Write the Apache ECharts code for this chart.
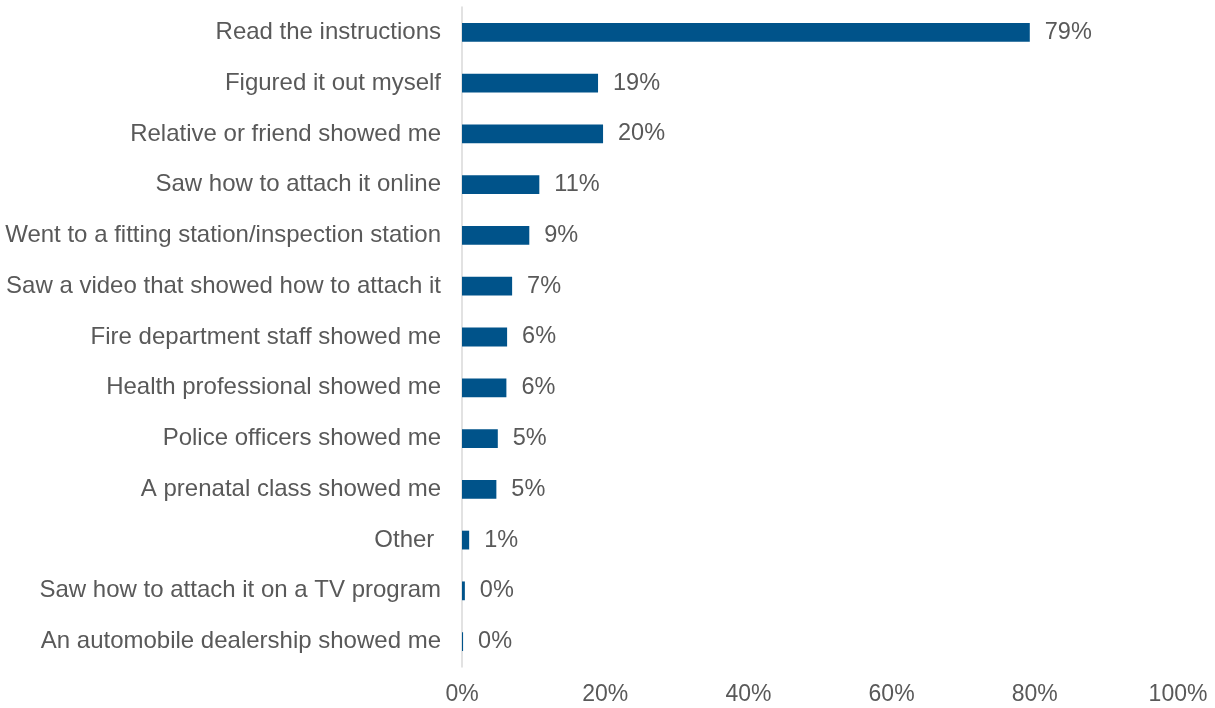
<!DOCTYPE html>
<html>
<head>
<meta charset="utf-8">
<style>
  html, body { margin: 0; padding: 0; background: #ffffff; }
  #chart { width: 1215px; height: 708px; }
</style>
<script src="https://cdn.jsdelivr.net/npm/echarts@6/dist/echarts.min.js"></script>
</head>
<body>
<div id="chart"></div>
<script>
// How people learned to attach the car seat (share of respondents, %)
const categories = [
  "Read the instructions",
  "Figured it out myself",
  "Relative or friend showed me",
  "Saw how to attach it online",
  "Went to a fitting station/inspection station",
  "Saw a video that showed how to attach it",
  "Fire department staff showed me",
  "Health professional showed me",
  "Police officers showed me",
  "A prenatal class showed me",
  "Other ",
  "Saw how to attach it on a TV program",
  "An automobile dealership showed me"
];
const shares = [79.3, 19.0, 19.7, 10.8, 9.4, 7.0, 6.3, 6.2, 5.0, 4.8, 1.0, 0.4, 0.15];
const axisTicks = [0, 20, 40, 60, 80, 100];

const textColor = "#595959";
const font = "'Liberation Sans', Arial, sans-serif";

const chart = echarts.init(document.getElementById("chart"), null, { renderer: "canvas" });
chart.setOption({
  animation: false,
  backgroundColor: "#ffffff",
  grid: { left: 462, right: 37, top: 7, bottom: 41, containLabel: false },
  xAxis: {
    type: "value",
    min: axisTicks[0],
    max: axisTicks[axisTicks.length - 1],
    interval: axisTicks[1] - axisTicks[0],
    axisLine: { show: false },
    axisTick: { show: false },
    splitLine: { show: false },
    axisLabel: {
      color: textColor,
      fontFamily: font,
      fontSize: 23,
      margin: 16,
      formatter: v => v + "%"
    }
  },
  yAxis: {
    type: "category",
    data: categories,
    inverse: true,
    axisLine: { show: true, lineStyle: { color: "#d9d9d9", width: 1.5 } },
    axisTick: { show: false },
    axisLabel: {
      color: textColor,
      fontFamily: font,
      fontSize: 24,
      margin: 21
    }
  },
  series: [{
    type: "bar",
    data: shares,
    barCategoryGap: "63%",
    itemStyle: { color: "#00538a" },
    label: {
      show: true,
      position: "right",
      distance: 15,
      color: textColor,
      fontFamily: font,
      fontSize: 23.5,
      formatter: p => Math.round(p.value) + "%"
    }
  }]
});
</script>
</body>
</html>
